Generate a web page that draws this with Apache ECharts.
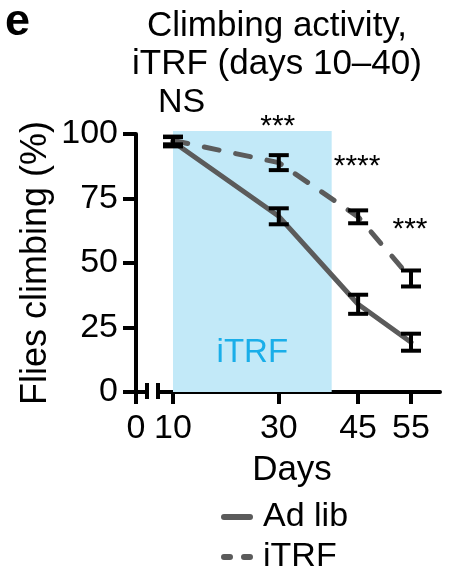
<!DOCTYPE html>
<html>
<head>
<meta charset="utf-8">
<script src="https://cdn.jsdelivr.net/npm/echarts@6/dist/echarts.min.js"></script>
<style>
  html, body { margin: 0; padding: 0; background: #fff; }
  #chart { width: 450px; height: 588px; }
</style>
</head>
<body>
<div id="chart"></div>
<script>
// data (% flies climbing, mean +/- sem)
var days = [10, 30, 45, 55];
var adLibMean = [97, 68.1, 34, 19.3];
var adLibSem = [1.8, 3.1, 3.7, 3.3];
var itrfMean = [97.5, 88.9, 67.9, 44];
var itrfSem = [1.5, 2.9, 2.5, 3.1];
var seriesNames = ['Ad lib', 'iTRF'];
var xTicks = [10, 30, 45, 55];
var sigLabels = ['NS', '***', '****', '***'];
var shadeDays = [10, 40];

// layout / style
var FONT = 'Liberation Sans, Arial, Helvetica, sans-serif';
var GRAY = '#5b5b5b';
var SHADE = '#c2e9f8';
var SHADE_TEXT = '#19aee9';
var AXIS_W = 4;
var sigY = [102.5, 126.6, 167, 230];   // pixel centres of the significance marks
var sigDx = [8.5, -1, -1, -1];
var sigSize = [34, 30, 30, 30];

var chart = echarts.init(document.getElementById('chart'));

function pairs(xs, ys) {
  return xs.map(function (x, i) { return [x, ys[i]]; });
}

var errData = [];
days.forEach(function (d, i) {
  errData.push([d, adLibMean[i], adLibSem[i]]);
  errData.push([d, itrfMean[i], itrfSem[i]]);
});

var axisLabelStyle = { color: '#000', fontSize: 34, fontFamily: FONT };

option = {
  animation: false,
  title: {
    text: 'Climbing activity,\niTRF (days 10\u201340)',
    left: 277,
    top: 7,
    padding: 0,
    textAlign: 'center',
    textStyle: { color: '#000', fontSize: 35, fontWeight: 'normal', fontFamily: FONT, lineHeight: 38 }
  },
  legend: {
    orient: 'vertical',
    left: 221,
    top: 500,
    padding: 0,
    itemWidth: 26,
    itemHeight: 6,
    itemGap: 6,
    selectedMode: false,
    textStyle: { color: '#000', fontSize: 34, fontFamily: FONT, lineHeight: 34, padding: [0, 0, 0, 8] },
    data: [
      { name: seriesNames[0], itemStyle: { opacity: 0 }, lineStyle: { width: 6, type: 'solid', cap: 'round' } },
      { name: seriesNames[1], itemStyle: { opacity: 0 }, lineStyle: { width: 6, type: [6, 14], cap: 'round' } }
    ]
  },
  grid: [
    { left: 136, width: 11, top: 134, bottom: 196 },
    { left: 158, right: 10, top: 134, bottom: 196 }
  ],
  xAxis: [
    {
      gridIndex: 0, type: 'value', min: 0, max: 1,
      axisLine: { lineStyle: { color: '#000', width: AXIS_W } },
      axisTick: { customValues: [0], length: 12, lineStyle: { color: '#000', width: AXIS_W } },
      axisLabel: Object.assign({ customValues: [0], margin: 20, formatter: function () { return '0'; } }, axisLabelStyle),
      splitLine: { show: false }
    },
    {
      gridIndex: 1, type: 'value', min: 7.164, max: 60.48,
      name: 'Days', nameLocation: 'middle', nameGap: 61,
      nameTextStyle: { color: '#000', fontSize: 35, fontFamily: FONT, padding: [0, 14, 0, 0] },
      axisLine: { lineStyle: { color: '#000', width: AXIS_W } },
      axisTick: { customValues: xTicks, length: 12, lineStyle: { color: '#000', width: AXIS_W } },
      axisLabel: Object.assign({ customValues: xTicks, margin: 20 }, axisLabelStyle),
      splitLine: { show: false }
    }
  ],
  yAxis: [
    {
      gridIndex: 0, type: 'value', min: 0, max: 100, interval: 25,
      name: 'Flies climbing (%)', nameLocation: 'middle', nameRotate: 90, nameGap: 82,
      nameTextStyle: { color: '#000', fontSize: 36, fontFamily: FONT },
      axisLine: { show: true, lineStyle: { color: '#000', width: AXIS_W } },
      axisTick: { show: true, length: 13, lineStyle: { color: '#000', width: AXIS_W } },
      axisLabel: Object.assign({ margin: 18 }, axisLabelStyle),
      splitLine: { show: false }
    },
    { gridIndex: 1, type: 'value', min: 0, max: 100, show: false }
  ],
  series: [
    {
      // iTRF window shading
      type: 'custom', xAxisIndex: 1, yAxisIndex: 1, silent: true, clip: false, z: 1,
      data: [shadeDays],
      renderItem: function (params, api) {
        var p0 = api.coord([api.value(0), 0]);
        var p1 = api.coord([api.value(1), 101.2]);
        var mid = api.coord([(api.value(0) + api.value(1)) / 2, 15.3]);
        return {
          type: 'group',
          children: [
            { type: 'rect', shape: { x: p0[0], y: p1[1], width: p1[0] - p0[0], height: p0[1] - p1[1] },
              style: { fill: SHADE } },
            { type: 'text', style: { text: 'iTRF', x: mid[0], y: mid[1], align: 'center', verticalAlign: 'middle',
              fill: SHADE_TEXT, fontSize: 33, fontFamily: FONT } }
          ]
        };
      }
    },
    {
      name: seriesNames[0], type: 'line', xAxisIndex: 1, yAxisIndex: 1, z: 2,
      symbol: 'none', color: GRAY,
      lineStyle: { color: GRAY, width: 5, cap: 'round' },
      data: pairs(days, adLibMean)
    },
    {
      name: seriesNames[1], type: 'line', xAxisIndex: 1, yAxisIndex: 1, z: 2,
      symbol: 'none', color: GRAY,
      lineStyle: { color: GRAY, width: 5, type: [15, 17], cap: 'round' },
      data: pairs(days, itrfMean)
    },
    {
      // sem error bars
      type: 'custom', xAxisIndex: 1, yAxisIndex: 1, silent: true, z: 3,
      data: errData,
      renderItem: function (params, api) {
        var x = api.value(0), m = api.value(1), e = api.value(2);
        var hi = api.coord([x, m + e]);
        var lo = api.coord([x, m - e]);
        var s = { stroke: '#000', lineWidth: 4 };
        return {
          type: 'group',
          children: [
            { type: 'line', shape: { x1: hi[0], y1: hi[1], x2: lo[0], y2: lo[1] }, style: s },
            { type: 'line', shape: { x1: hi[0] - 10, y1: hi[1], x2: hi[0] + 10, y2: hi[1] }, style: s },
            { type: 'line', shape: { x1: lo[0] - 10, y1: lo[1], x2: lo[0] + 10, y2: lo[1] }, style: s }
          ]
        };
      }
    }
  ]
};

chart.setOption(option);

// panel letter, axis break marks and significance marks
var graphics = [
  { type: 'text', left: 5, top: 0, style: { text: 'e', fontSize: 45, fontWeight: 'bold', fontFamily: FONT, fill: '#000' } }
];
[147, 158].forEach(function (bx) {
  graphics.push({ type: 'line', shape: { x1: bx, y1: 383, x2: bx, y2: 399 }, style: { stroke: '#000', lineWidth: AXIS_W } });
});
sigLabels.forEach(function (t, i) {
  var px = chart.convertToPixel({ xAxisIndex: 1 }, days[i]);
  graphics.push({
    type: 'text', x: px + sigDx[i], y: sigY[i],
    style: { text: t, align: 'center', verticalAlign: 'middle', fontSize: sigSize[i], fontFamily: FONT, fill: '#000' }
  });
});
chart.setOption({ graphic: graphics });
</script>
</body>
</html>
